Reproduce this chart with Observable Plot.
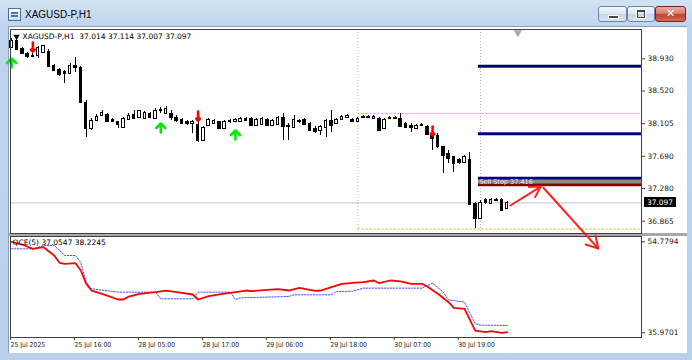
<!DOCTYPE html>
<html>
<head>
<meta charset="utf-8">
<script src="https://cdn.jsdelivr.net/npm/d3@7"></script>
<script src="https://cdn.jsdelivr.net/npm/@observablehq/plot@0.6"></script>
<style>
html,body{margin:0;padding:0;background:#b9d1ea;}
#win{position:relative;width:692px;height:360px;overflow:hidden;background:linear-gradient(#d3e3f4 0px,#bfd5ee 26px,#b8d0ea 360px);font-family:"Liberation Sans",Arial,sans-serif;}
#title{position:absolute;left:25px;top:9px;font-size:10px;color:#000;}
#icon{position:absolute;left:8px;top:8px;width:11px;height:11px;border:1px solid #4a6f9c;background:linear-gradient(#ffffff,#cfe0f4);}
#icon:after{content:"";position:absolute;left:2px;top:3px;width:7px;height:2px;background:#3c78c8;box-shadow:0 3px 0 #3c78c8;}
.btn{position:absolute;top:6px;height:16px;border:1px solid #6b85a6;border-radius:3px;box-sizing:border-box;background:linear-gradient(#f4f7fb,#dbe6f2 48%,#c5d5e9 52%,#d9e5f2);}
#bmin{left:598px;width:29px;}
#bmin:after{content:"";position:absolute;left:9px;top:8px;width:9px;height:2px;background:#444;border:1px solid #fff;}
#bmax{left:627px;width:28px;}
#bmax:after{content:"";position:absolute;left:9px;top:3px;width:6px;height:5px;border:1px solid #444;border-top-width:2px;outline:1px solid #fff;}
#bclose{left:655px;width:31px;border-color:#6e2a22;background:linear-gradient(#e9aca1,#d6806f 45%,#c2402d 55%,#d46a52);color:#fff;font:bold 11px "DejaVu Sans",sans-serif;text-align:center;line-height:14px;}
#client{position:absolute;left:8px;top:26px;width:679px;height:327px;background:#fff;border-top:1px solid #8c9fb7;border-left:1px solid #8c9fb7;box-sizing:border-box;}
#sep{position:absolute;left:9px;top:233px;width:678px;height:3px;background:#a8a8a8;}
#main{position:absolute;left:0;top:29px;z-index:3;}
#ind{position:absolute;left:0;top:235px;z-index:2;}
svg{display:block;}
</style>
</head>
<body>
<div id="win">
  <div id="icon"></div>
  <div id="title">XAGUSD-P,H1</div>
  <div class="btn" id="bmin"></div>
  <div class="btn" id="bmax"></div>
  <div class="btn" id="bclose">✕</div>
  <div id="client"></div>
  <div id="sep"></div>
  <div id="main"></div>
  <div id="ind"></div>
</div>
<script>
// ---------- data ----------
const symbol = "XAGUSD-P,H1";
const open = [39.074,39.163,39.061,38.997,38.959,38.972,39.010,39.023,38.845,38.794,
  38.768,38.743,38.845,38.807,38.374,38.031,38.145,38.209,38.221,38.158,
  38.120,38.056,38.158,38.221,38.183,38.170,38.234,38.170,38.285,38.234,
  38.234,38.183,38.158,38.120,38.107,38.094,37.891,38.081,38.107,38.120,
  38.043,38.145,38.132,38.132,38.170,38.170,38.081,38.094,38.158,38.081,
  38.094,38.183,38.081,38.056,38.120,38.158,38.107,38.043,38.018,38.056,
  38.145,38.107,38.158,38.183,38.158,38.132,38.183,38.196,38.170,38.170,
  38.043,38.170,38.183,38.170,38.107,38.081,38.043,38.081,38.069,37.980,
  37.954,37.802,37.725,37.675,37.649,37.611,37.649,37.089,36.898,37.140,
  37.089,37.140,37.140,37.014];
const high = [39.188,39.176,39.074,39.010,38.997,39.087,39.099,39.048,38.857,38.807,
  38.781,38.870,38.947,38.832,38.399,38.170,38.221,38.272,38.234,38.170,
  38.132,38.183,38.234,38.272,38.272,38.260,38.247,38.298,38.310,38.323,
  38.272,38.209,38.170,38.145,38.145,38.145,38.069,38.170,38.158,38.132,
  38.145,38.158,38.170,38.183,38.183,38.183,38.170,38.183,38.170,38.158,
  38.196,38.234,38.107,38.209,38.158,38.170,38.120,38.069,38.081,38.158,
  38.272,38.170,38.209,38.221,38.170,38.183,38.209,38.209,38.209,38.183,
  38.170,38.196,38.196,38.234,38.120,38.107,38.094,38.107,38.081,37.992,
  37.980,37.814,37.763,37.687,37.662,37.700,37.738,37.102,37.127,37.153,
  37.153,37.153,37.153,37.114];
const low = [39.061,39.036,38.985,38.934,38.947,38.934,38.997,38.819,38.768,38.705,
  38.616,38.730,38.756,38.361,37.929,38.018,38.132,38.196,38.120,38.120,
  38.043,38.043,38.145,38.158,38.170,38.158,38.170,38.158,38.234,38.221,
  38.145,38.120,38.094,38.081,37.980,37.865,37.878,38.069,38.094,38.031,
  38.031,38.107,38.120,38.120,38.132,38.069,38.069,38.081,38.069,38.069,
  38.081,37.891,37.891,38.043,38.107,38.081,38.005,37.980,37.954,37.929,
  37.992,38.094,38.145,38.170,38.120,38.120,38.170,38.170,38.158,38.005,
  38.031,38.158,38.158,38.056,38.043,37.992,38.031,38.069,37.954,37.763,
  37.789,37.470,37.598,37.483,37.585,37.598,37.063,36.771,36.885,37.076,
  37.076,37.115,36.987,37.007];
const close = [39.163,39.048,38.997,38.947,38.972,39.074,39.087,38.832,38.781,38.718,
  38.743,38.845,38.807,38.374,38.031,38.145,38.196,38.247,38.132,38.132,
  38.094,38.170,38.209,38.170,38.260,38.247,38.183,38.272,38.260,38.298,
  38.183,38.145,38.107,38.107,38.132,37.891,38.056,38.158,38.145,38.043,
  38.120,38.120,38.158,38.170,38.145,38.081,38.158,38.170,38.081,38.145,
  38.183,38.069,38.069,38.158,38.145,38.094,38.018,38.005,38.069,38.145,
  38.081,38.158,38.196,38.209,38.132,38.170,38.196,38.183,38.196,38.018,
  38.158,38.183,38.170,38.069,38.056,38.056,38.081,38.094,37.967,37.916,
  37.802,37.700,37.662,37.598,37.611,37.675,37.076,36.898,37.102,37.102,
  37.140,37.127,37.000,37.097];

const timeTickIdx = [0,12,24,36,48,60,72,84];
const timeLabels = ["25 Jul 2025","25 Jul 16:00","28 Jul 05:00","28 Jul 17:00","29 Jul 06:00","29 Jul 18:00","30 Jul 07:00","30 Jul 19:00"];
const priceTicks = [38.930,38.520,38.105,37.690,37.280,36.865];
const priceDomain = [36.708,39.303];
const barDomain = [-0.2,118.2];

const separatorIdx = [65,88];
const dayStartIdx = 65;
const dayLevels = [38.234,36.765];
const levelStartIdx = 87.6;
const navyLevels = [38.836,37.976,37.411];
const grayLevels = [37.369];
const redLevels = [37.327];
const levelText = "Sell Stop 37.416";

const sellIdx = [4,35,79];
const sellTip = [39.023,38.145,37.954];
const buyIdx = [0,28,42];
const buyTip = [38.934,38.107,38.018];

const drawnFromIdx = [93.6,99.8];
const drawnFromPrice = [37.064,37.290];
const drawnToIdx = [99.3,110.1];
const drawnToPrice = [37.305,36.516];
const shiftIdx = [95];

const qceIdx = [0,2,4,6,8,9,10,12,13,14,15,17,20,21,22,24,27,29,31,34,35,37,39,42,44,45,48,50,52,54,57,58,60,62,64,66,68,69,71,73,75,77,78,80,82,83,85,87,89,90,92,93];
const qceVal = [54.78,54.22,53.33,53.66,51.95,50.44,50.23,50.36,48.85,46.10,44.71,44.03,42.85,42.85,43.47,44.03,44.36,44.71,44.36,43.89,42.85,43.54,43.89,44.36,44.71,44.57,44.86,44.98,44.71,45.27,44.65,44.71,45.40,46.10,46.31,46.43,46.78,46.22,46.78,46.60,46.10,46.10,45.54,44.03,42.30,41.14,40.93,36.44,36.09,36.30,35.97,36.09];
const sigIdx = [0,4,6,8,10,12,13,14,15,20,27,28,34,35,41,42,43,52,53,60,61,64,66,77,79,81,82,85,87,88,93];
const sigVal = [53.33,53.33,54.01,54.01,51.95,51.95,50.50,46.43,45.06,44.37,44.37,42.99,42.99,44.37,44.37,42.85,43.20,43.47,43.82,43.82,44.50,44.57,45.20,45.20,46.22,44.37,42.78,42.30,37.84,37.55,37.49];
const indTicks = [54.7794,35.9701];
const indDomain = [34.999,55.875];
const qceLabel = "QCE(5) 37.0547 38.2245";

// ---------- build ----------
const FONT = "DejaVu Sans, sans-serif";
const n = close.length;
const bars = open.map((o,i) => ({i, o, h: high[i], l: low[i], c: close[i]}));
const last = bars[n-1];
const header = `${symbol}  ${last.o.toFixed(3)} ${last.h.toFixed(3)} ${last.l.toFixed(3)} ${last.c.toFixed(3)}`;
const sells = sellIdx.map((i,k) => ({i, p: sellTip[k]}));
const buys = buyIdx.map((i,k) => ({i, p: buyTip[k]}));
const drawn = drawnFromIdx.map((d,k) => ({x1: d, y1: drawnFromPrice[k], x2: drawnToIdx[k], y2: drawnToPrice[k]}));
const qce = qceIdx.map((i,k) => ({i, v: qceVal[k]}));
const sig = sigIdx.map((i,k) => ({i, v: sigVal[k]}));

const priceBox = (index, scales, values, dims) => {
  const g = d3.create("svg:g");
  const y = Math.round(scales.y(last.c));
  const x0 = dims.width - dims.marginRight + 3;
  g.append("rect").attr("x", x0).attr("y", y - 5).attr("width", 32).attr("height", 10).attr("fill", "#000");
  g.append("text").attr("x", x0 + 16).attr("y", y + 3).attr("fill", "#fff")
    .attr("font-size", 7.5).attr("font-family", FONT).attr("text-anchor", "middle").text(last.c.toFixed(3));
  return g.node();
};

const main = Plot.plot({
  width: 692, height: 205,
  marginLeft: 10, marginRight: 51, marginTop: 0, marginBottom: 1,
  style: {background: "transparent", overflow: "visible", fontFamily: FONT},
  x: {domain: barDomain, axis: null},
  y: {domain: priceDomain, label: null},
  marks: [
    Plot.ruleY([last.c], {stroke: "#c4c4c4"}),
    Plot.ruleX(separatorIdx, {stroke: "#b8b8b8", strokeDasharray: "1,2"}),
    Plot.ruleY(dayLevels, {x1: dayStartIdx, x2: barDomain[1], stroke: "#ffa500", strokeDasharray: "2,2"}),
    Plot.ruleY(navyLevels, {x1: levelStartIdx, x2: barDomain[1], stroke: "#00007f", strokeWidth: 3}),
    Plot.ruleY(grayLevels, {x1: levelStartIdx, x2: barDomain[1], stroke: "#8c8c8c", strokeWidth: 3}),
    Plot.ruleY(redLevels, {x1: levelStartIdx, x2: barDomain[1], stroke: "#800000", strokeWidth: 3}),
    Plot.text([levelText], {x: levelStartIdx, y: grayLevels[0], dx: 1, textAnchor: "start", fill: "#e6e6e6", fontSize: 6.5}),
    Plot.ruleX(bars, {x: "i", y1: "l", y2: "h", stroke: "#000", shapeRendering: "crispEdges"}),
    Plot.rect(bars, {x1: d => d.i - 0.24, x2: d => d.i + 0.24, y1: "o", y2: "c",
      fill: d => d.c >= d.o ? "#fff" : "#000", stroke: "#000", shapeRendering: "crispEdges"}),
    Plot.vector(sells, {x: "i", y: "p", length: 9, rotate: 180, anchor: "end", stroke: "#ff0000", strokeWidth: 2.6}),
    Plot.vector(buys, {x: "i", y: "p", length: 9, rotate: 180, anchor: "start", stroke: "#00ee00", strokeWidth: 2.6, shape: {draw(ctx, l) { const w = l / 2; ctx.moveTo(0, 0); ctx.lineTo(0, -l); ctx.moveTo(-w, -w); ctx.lineTo(0, 0); ctx.lineTo(w, -w); }}}),
    Plot.arrow(drawn, {x1: "x1", y1: "y1", x2: "x2", y2: "y2", stroke: "#ff2020", strokeWidth: 2, headLength: 10}),
    Plot.dot(shiftIdx, {x: d => d, frameAnchor: "top", dy: 3, symbol: "triangle", rotate: 180, r: 3, fill: "#a8a8a8", stroke: null}),
    Plot.frame({stroke: "#404040"}),
    Plot.dot([0], {frameAnchor: "top-left", dx: 6, dy: 7, symbol: "triangle", rotate: 180, r: 2.4, fill: "#000", stroke: null}),
    Plot.text([header], {frameAnchor: "top-left", dx: 12, dy: 4, textAnchor: "start", lineAnchor: "top", fontSize: 7.5, fill: "#000"}),
    Plot.axisY({ticks: priceTicks, anchor: "right", tickSize: 3, tickPadding: 3, tickFormat: d => d.toFixed(3), fontSize: 7.5, fill: "#222", stroke: "#404040", label: null}),
    priceBox
  ]
});
document.getElementById("main").appendChild(main);

const ind = Plot.plot({
  width: 692, height: 118,
  marginLeft: 10, marginRight: 51, marginTop: 1, marginBottom: 16,
  style: {background: "transparent", overflow: "visible", fontFamily: FONT},
  x: {domain: barDomain, label: null},
  y: {domain: indDomain, label: null},
  marks: [
    Plot.line(sig, {x: "i", y: "v", stroke: "#4b4bff", strokeWidth: 1, strokeDasharray: "1.5,1.5"}),
    Plot.line(qce, {x: "i", y: "v", stroke: "#ff0000", strokeWidth: 1.8}),
    Plot.frame({stroke: "#404040"}),
    Plot.text([qceLabel], {frameAnchor: "top-left", dx: 2, dy: 3, textAnchor: "start", lineAnchor: "top", fontSize: 7.5, fill: "#000"}),
    Plot.axisY({ticks: indTicks, anchor: "right", tickSize: 3, tickPadding: 3, tickFormat: d => d.toFixed(4), fontSize: 7.5, fill: "#222", stroke: "#404040", label: null}),
    Plot.axisX({ticks: timeTickIdx, anchor: "bottom", tickSize: 3, tickPadding: 2, textAnchor: "start", dx: -1,
      tickFormat: d => timeLabels[timeTickIdx.indexOf(d)], fontSize: 6.8, fontFamily: "DejaVu Sans Condensed, DejaVu Sans, sans-serif", fill: "#222", stroke: "#404040", label: null})
  ]
});
document.getElementById("ind").appendChild(ind);
</script>
</body>
</html>
